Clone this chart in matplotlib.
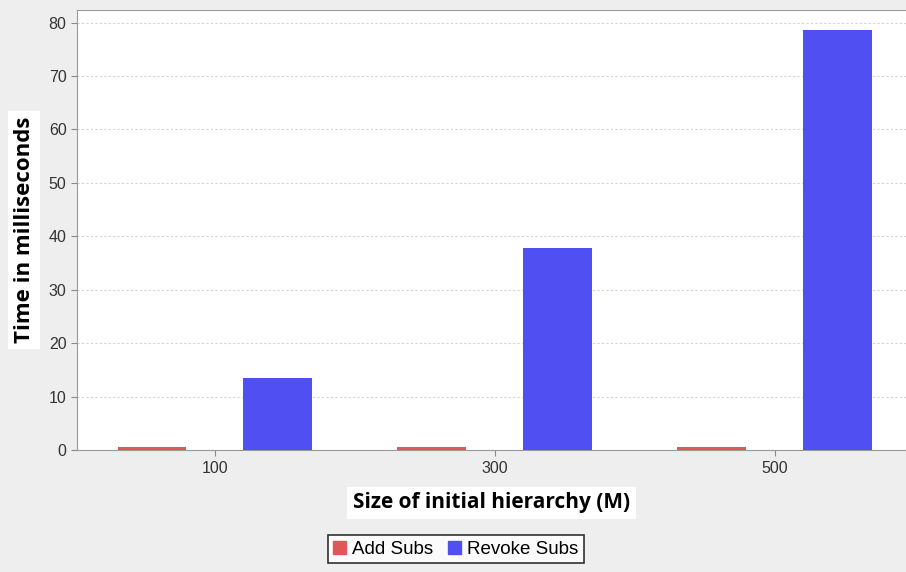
import numpy as np
import matplotlib
matplotlib.use("Agg")
import matplotlib.pyplot as plt
from matplotlib.patches import Patch

# data
sizes = ["100", "300", "500"]
add_subs = [0.5, 0.5, 0.5]
revoke_subs = [13.5, 37.8, 78.7]

bg = "#eeeeee"
red = "#e0575b"
blue = "#4f4ff2"

fig = plt.figure(figsize=(9.06, 5.72), dpi=100, facecolor=bg)
ax = fig.add_axes([0.085, 0.213, 0.915, 0.77])
ax.set_facecolor("white")

x = np.arange(len(sizes))
w = 0.246
off = 0.225
ax.bar(x - off, add_subs, w, color=red, zorder=3)
ax.bar(x + off, revoke_subs, w, color=blue, zorder=3)

ax.set_xlim(-0.493, 2.47)
ax.set_ylim(0, 82.4)
ax.set_yticks(range(0, 81, 10))
ax.set_xticks(x)
ax.set_xticklabels(sizes)

ax.yaxis.grid(True, linestyle=(0, (2, 2)), color="#d4d4d4", linewidth=0.8, zorder=0)
for s in ["left", "bottom", "top"]:
    ax.spines[s].set_color("#999999")
ax.spines["right"].set_visible(False)
ax.tick_params(axis="both", colors="#888888", labelcolor="#333333",
               labelsize=11.5, length=4, width=0.8)
for lbl in ax.get_xticklabels() + ax.get_yticklabels():
    lbl.set_family("Liberation Sans")

ax.set_ylabel("Time in milliseconds", fontsize=16, fontweight="bold",
              family="Open Sans", labelpad=10,
              bbox=dict(facecolor="white", edgecolor="none", pad=4))
ax.set_xlabel("Size of initial hierarchy (M)", fontsize=15, fontweight="bold",
              family="Open Sans", labelpad=12,
              bbox=dict(facecolor="white", edgecolor="none", pad=4))

handles = [Patch(color=red, label="Add Subs"), Patch(color=blue, label="Revoke Subs")]
leg = fig.legend(handles=handles, loc="center", bbox_to_anchor=(0.503, 0.04), ncol=2,
                 frameon=True, fancybox=False, handlelength=0.7, handleheight=0.7,
                 handletextpad=0.3, columnspacing=0.8, borderpad=0.3,
                 prop={"family": "Liberation Sans", "size": 13.5})
leg.get_frame().set_edgecolor("black")
leg.get_frame().set_linewidth(1.2)
leg.get_frame().set_facecolor("white")

fig.savefig("out.png", dpi=100, facecolor=bg)
